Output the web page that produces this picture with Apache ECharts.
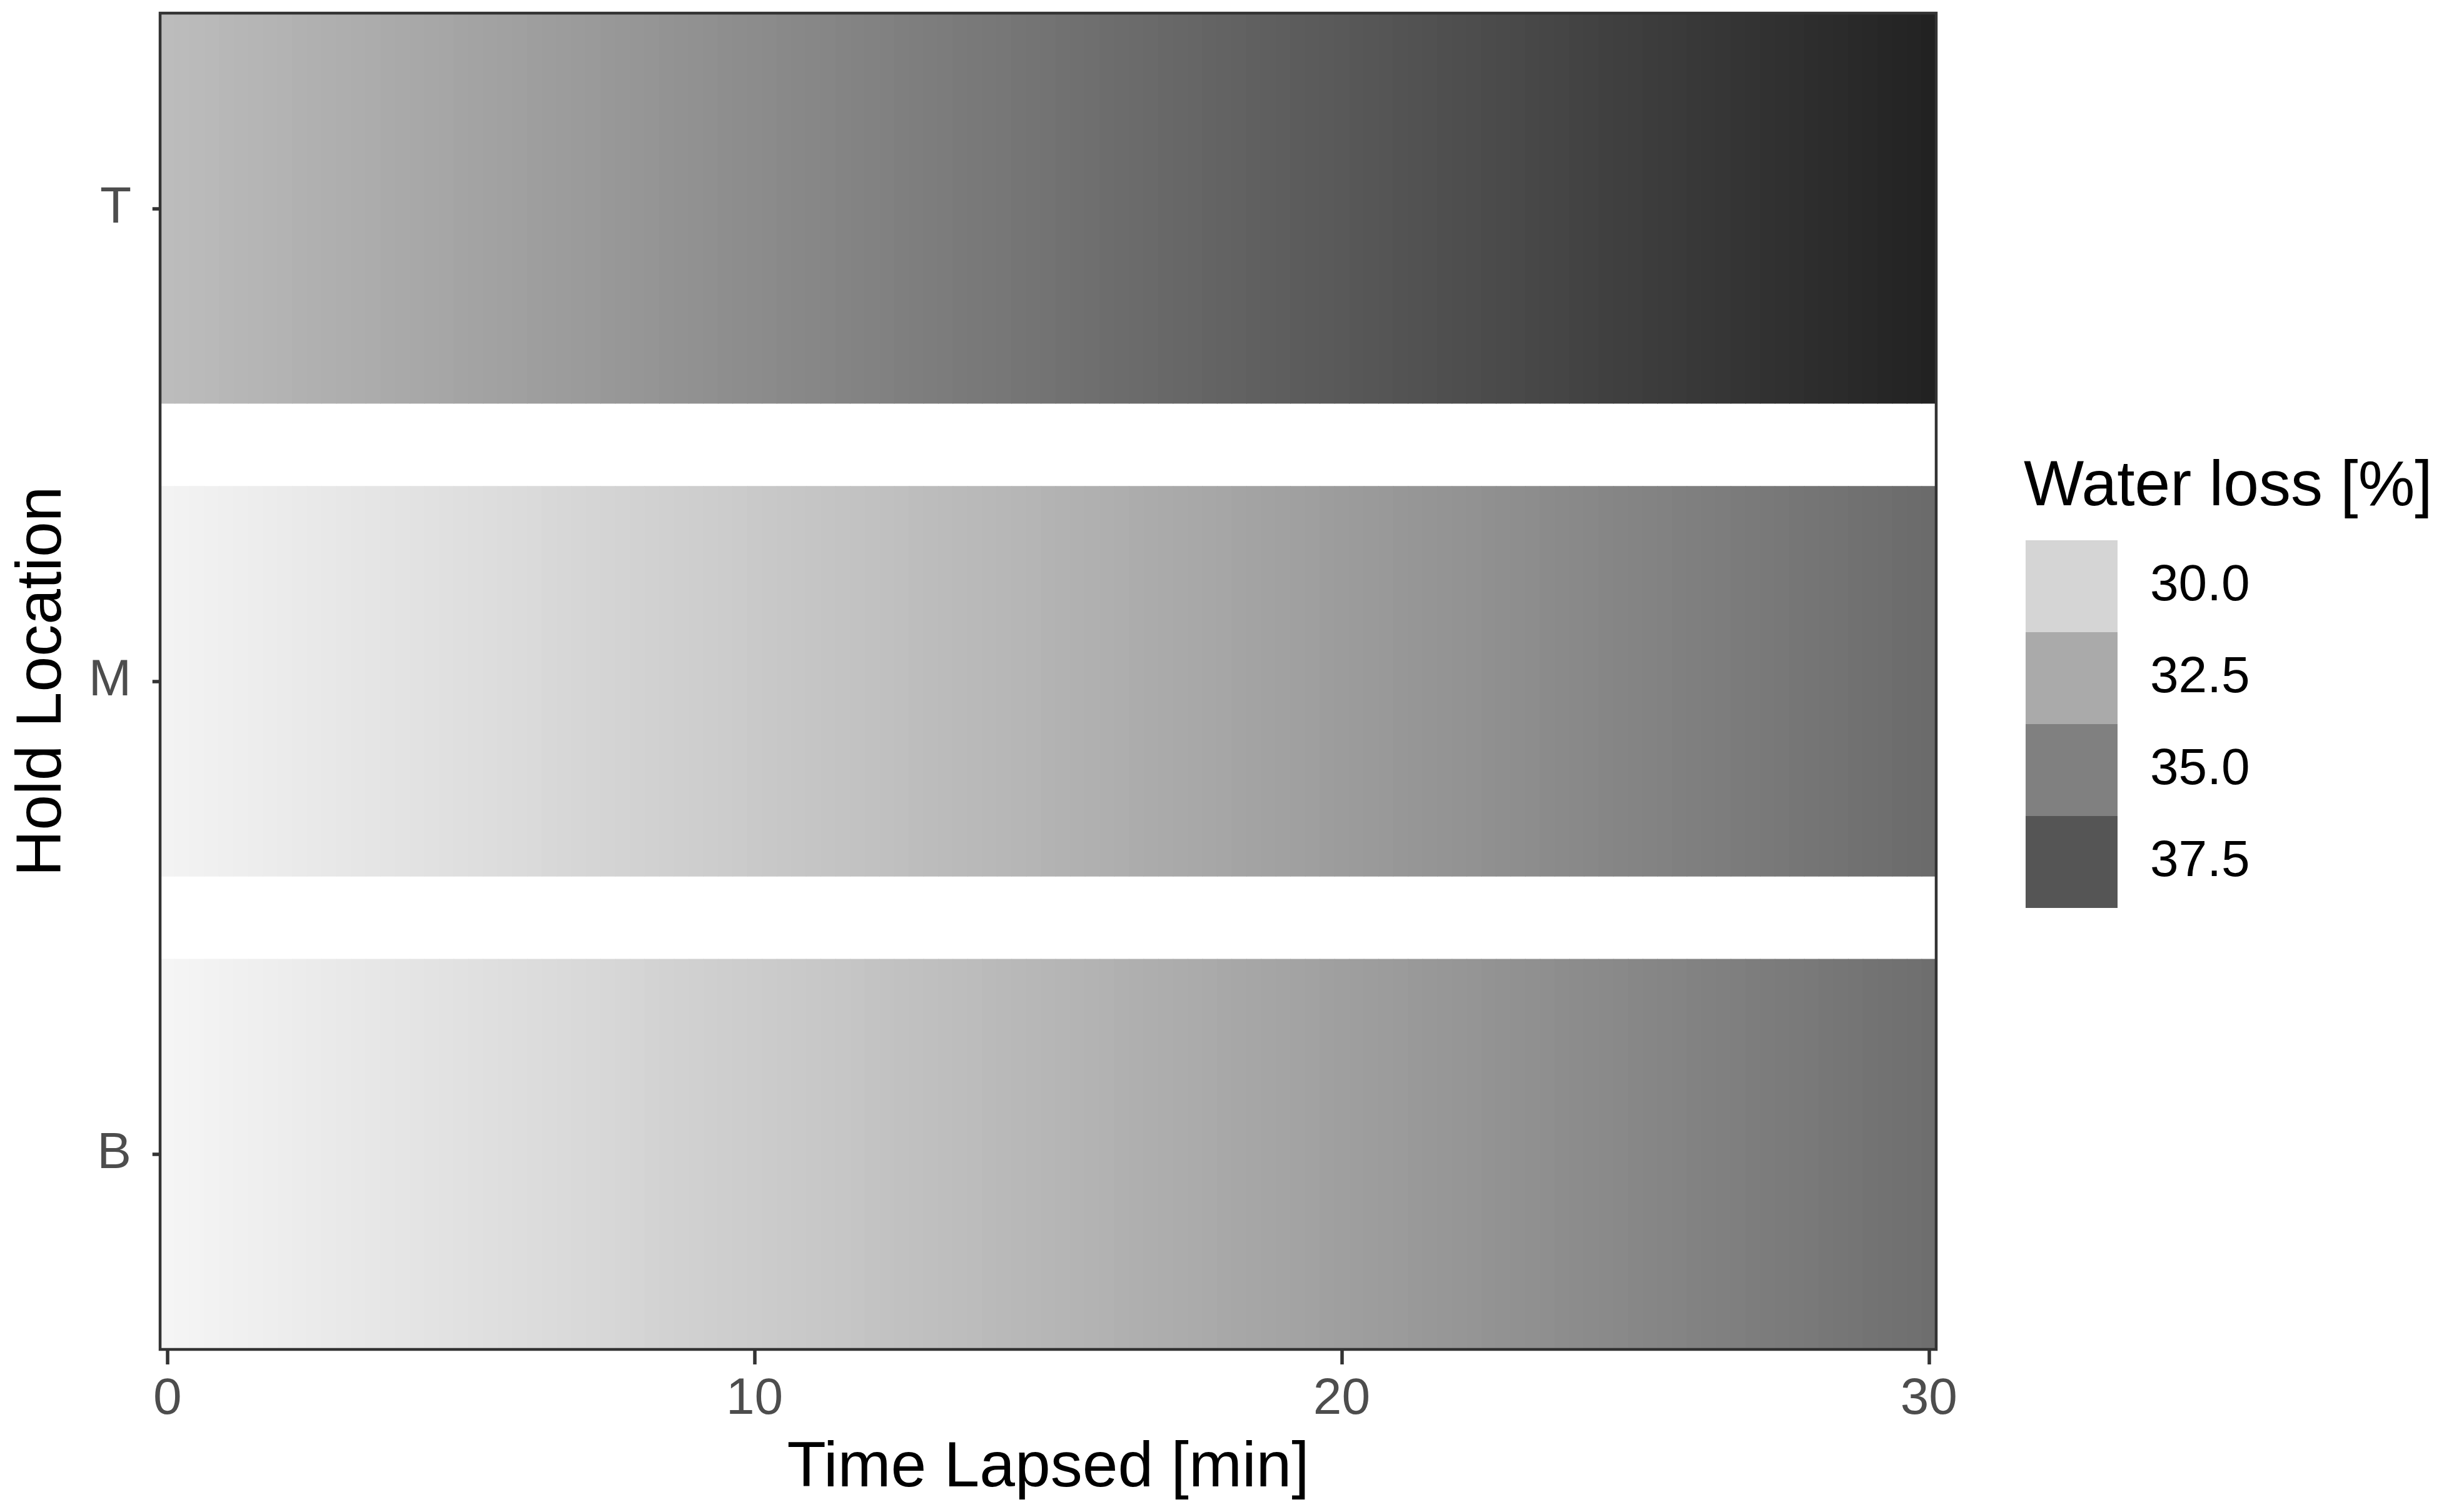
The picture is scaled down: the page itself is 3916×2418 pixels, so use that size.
<!DOCTYPE html>
<html>
<head>
<meta charset="utf-8">
<script src="https://cdn.jsdelivr.net/npm/echarts@6/dist/echarts.min.js"></script>
<style>
html,body{margin:0;padding:0;background:#fff;}
#chart{width:3916px;height:2418px;}
</style>
</head>
<body>
<div id="chart"></div>
<script>
// ---------- data ----------
const locations = ['B', 'M', 'T'];
const timeStep = 0.25; // minutes between measurements
const timeStart = 0, timeEnd = 30;
const xTicks = [0, 10, 20, 30];
const legendValues = [30.0, 32.5, 35.0, 37.5];
const legendLabels = ['30.0', '32.5', '35.0', '37.5'];

const lossB = [28.09,28.15,28.20,28.26, 28.32,28.38,28.43,28.49, 28.55,28.61,28.67,28.73, 28.79,28.85,28.90,28.96,
  29.02,29.08,29.14,29.20, 29.26,29.32,29.39,29.45, 29.51,29.57,29.63,29.69, 29.75,29.81,29.88,29.94,
  30.00,30.06,30.13,30.19, 30.25,30.31,30.38,30.44, 30.50,30.56,30.63,30.69, 30.75,30.81,30.88,30.94,
  31.01,31.08,31.14,31.21, 31.27,31.34,31.40,31.47, 31.53,31.60,31.66,31.73, 31.79,31.86,31.92,31.99,
  32.05,32.12,32.19,32.25, 32.32,32.39,32.46,32.52, 32.59,32.66,32.73,32.79, 32.86,32.93,33.00,33.07,
  33.14,33.21,33.28,33.34, 33.41,33.48,33.55,33.62, 33.69,33.76,33.83,33.90, 33.97,34.04,34.11,34.19,
  34.26,34.33,34.40,34.47, 34.54,34.61,34.69,34.76, 34.83,34.90,34.98,35.05, 35.12,35.19,35.27,35.34,
  35.41,35.48,35.56,35.63, 35.71,35.78,35.86,35.93, 36.01];

const lossM = [28.21,28.27,28.32,28.38, 28.44,28.50,28.56,28.62, 28.68,28.74,28.79,28.85, 28.91,28.97,29.03,29.09,
  29.15,29.21,29.27,29.34, 29.40,29.46,29.52,29.58, 29.64,29.70,29.77,29.83, 29.89,29.95,30.02,30.08,
  30.14,30.20,30.27,30.33, 30.39,30.45,30.52,30.58, 30.65,30.71,30.78,30.84, 30.90,30.97,31.03,31.10,
  31.16,31.23,31.29,31.36, 31.42,31.49,31.55,31.62, 31.68,31.75,31.82,31.88, 31.95,32.02,32.09,32.15,
  32.22,32.29,32.36,32.42, 32.49,32.56,32.63,32.69, 32.76,32.83,32.90,32.96, 33.03,33.10,33.17,33.24,
  33.31,33.38,33.45,33.52, 33.59,33.66,33.73,33.80, 33.87,33.94,34.02,34.09, 34.16,34.23,34.30,34.37,
  34.44,34.51,34.59,34.66, 34.73,34.80,34.88,34.95, 35.02,35.09,35.17,35.24, 35.31,35.39,35.46,35.54,
  35.61,35.69,35.76,35.84, 35.91,35.98,36.06,36.13, 36.21];

const lossT = [31.44,31.51,31.58,31.64, 31.71,31.78,31.85,31.92, 31.99,32.06,32.13,32.20, 32.27,32.34,32.41,32.48,
  32.55,32.62,32.69,32.76, 32.83,32.90,32.97,33.04, 33.11,33.18,33.26,33.33, 33.40,33.47,33.55,33.62,
  33.69,33.76,33.84,33.91, 33.98,34.05,34.13,34.20, 34.27,34.34,34.42,34.49, 34.56,34.64,34.71,34.79,
  34.86,34.93,35.01,35.08, 35.15,35.22,35.30,35.37, 35.45,35.52,35.60,35.67, 35.75,35.83,35.91,35.98,
  36.06,36.13,36.21,36.28, 36.36,36.44,36.52,36.59, 36.67,36.75,36.83,36.90, 36.98,37.06,37.14,37.21,
  37.29,37.37,37.45,37.52, 37.60,37.68,37.76,37.83, 37.91,37.99,38.07,38.15, 38.23,38.31,38.39,38.47,
  38.55,38.63,38.71,38.79, 38.87,38.95,39.03,39.11, 39.19,39.27,39.35,39.43, 39.51,39.59,39.67,39.75,
  39.83,39.91,40.00,40.08, 40.16,40.24,40.33,40.41, 40.49];

// ---------- build ----------
const times = [];
for (let t = timeStart; t <= timeEnd + 1e-9; t += timeStep) times.push(Math.round(t * 100) / 100);
const rows = [lossB, lossM, lossT];
const cells = [];
rows.forEach((vals, r) => vals.forEach((v, i) => cells.push([times[i], r + 1, v])));

const TILE_H = 0.826;              // tile height in category units
const SCALE_MIN = 27.5, SCALE_MAX = 42.5; // white .. black
function grey(v) {
  const g = Math.round(255 * (1 - (v - SCALE_MIN) / (SCALE_MAX - SCALE_MIN)));
  const h = g.toString(16).padStart(2, '0');
  return '#' + h + h + h;
}

const FONT = '"Liberation Sans", Arial, Helvetica, sans-serif';
const chart = echarts.init(document.getElementById('chart'), null, {renderer: 'canvas'});

chart.setOption({
  animation: false,
  backgroundColor: '#ffffff',
  textStyle: {fontFamily: FONT},
  title: {
    text: 'Water loss [%]',
    left: 3236, top: 729,
    padding: 0,
    textStyle: {fontFamily: FONT, fontSize: 102, fontWeight: 'normal', color: '#000000', lineHeight: 102}
  },
  grid: {
    left: 256, top: 21, right: 820, bottom: 260,
    show: true, backgroundColor: 'transparent', borderColor: '#333333', borderWidth: 4.5, z: 10
  },
  xAxis: {
    type: 'value',
    min: timeStart - timeStep / 2, max: timeEnd + timeStep / 2,
    name: 'Time Lapsed [min]', nameLocation: 'middle', nameGap: 140,
    nameTextStyle: {fontFamily: FONT, fontSize: 102, color: '#000000'},
    splitLine: {show: false},
    axisLine: {show: false},
    axisTick: {show: true, customValues: xTicks, length: 24, lineStyle: {color: '#333333', width: 5.5}},
    axisLabel: {customValues: xTicks, margin: 39, fontFamily: FONT, fontSize: 82, color: '#4d4d4d',
      formatter: v => String(v)}
  },
  yAxis: {
    type: 'value',
    min: 1 - TILE_H / 2, max: locations.length + TILE_H / 2,
    name: 'Hold Location', nameLocation: 'middle', nameGap: 136,
    nameTextStyle: {fontFamily: FONT, fontSize: 102, color: '#000000'},
    splitLine: {show: false},
    axisLine: {show: false},
    axisTick: {show: true, customValues: [1, 2, 3], length: 24, lineStyle: {color: '#333333', width: 5.5}},
    axisLabel: {customValues: [1, 2, 3], margin: 46, fontFamily: FONT, fontSize: 82, color: '#4d4d4d',
      formatter: v => locations[Math.round(v) - 1] || ''}
  },
  visualMap: [
    {
      type: 'continuous', show: false, seriesIndex: 0, dimension: 2,
      min: SCALE_MIN, max: SCALE_MAX,
      inRange: {color: ['#ffffff', '#000000']}
    },
    {
      type: 'piecewise', show: true, seriesIndex: 1,
      orient: 'vertical', inverse: true, align: 'left',
      left: 3239, top: 864, padding: 0,
      itemWidth: 147, itemHeight: 147, itemGap: 0, textGap: 52,
      itemSymbol: 'rect', selectedMode: false, hoverLink: false,
      showLabel: true,
      textStyle: {fontFamily: FONT, fontSize: 82, color: '#000000', padding: [14, 0, 0, 0]},
      pieces: legendValues.map((v, i) => ({value: v, label: legendLabels[i], color: grey(v)}))
    }
  ],
  series: [
    {
      type: 'custom',
      clip: true,
      data: cells,
      encode: {x: 0, y: 1},
      renderItem: function (params, api) {
        const x = api.value(0), y = api.value(1);
        const p0 = api.coord([x - timeStep / 2, y + TILE_H / 2]);
        const p1 = api.coord([x + timeStep / 2, y - TILE_H / 2]);
        return {
          type: 'rect',
          shape: {x: p0[0], y: p0[1], width: p1[0] - p0[0] + 0.8, height: p1[1] - p0[1]},
          style: {fill: api.visual('color')}
        };
      }
    },
    {type: 'scatter', data: [], silent: true}
  ]
});
</script>
</body>
</html>
